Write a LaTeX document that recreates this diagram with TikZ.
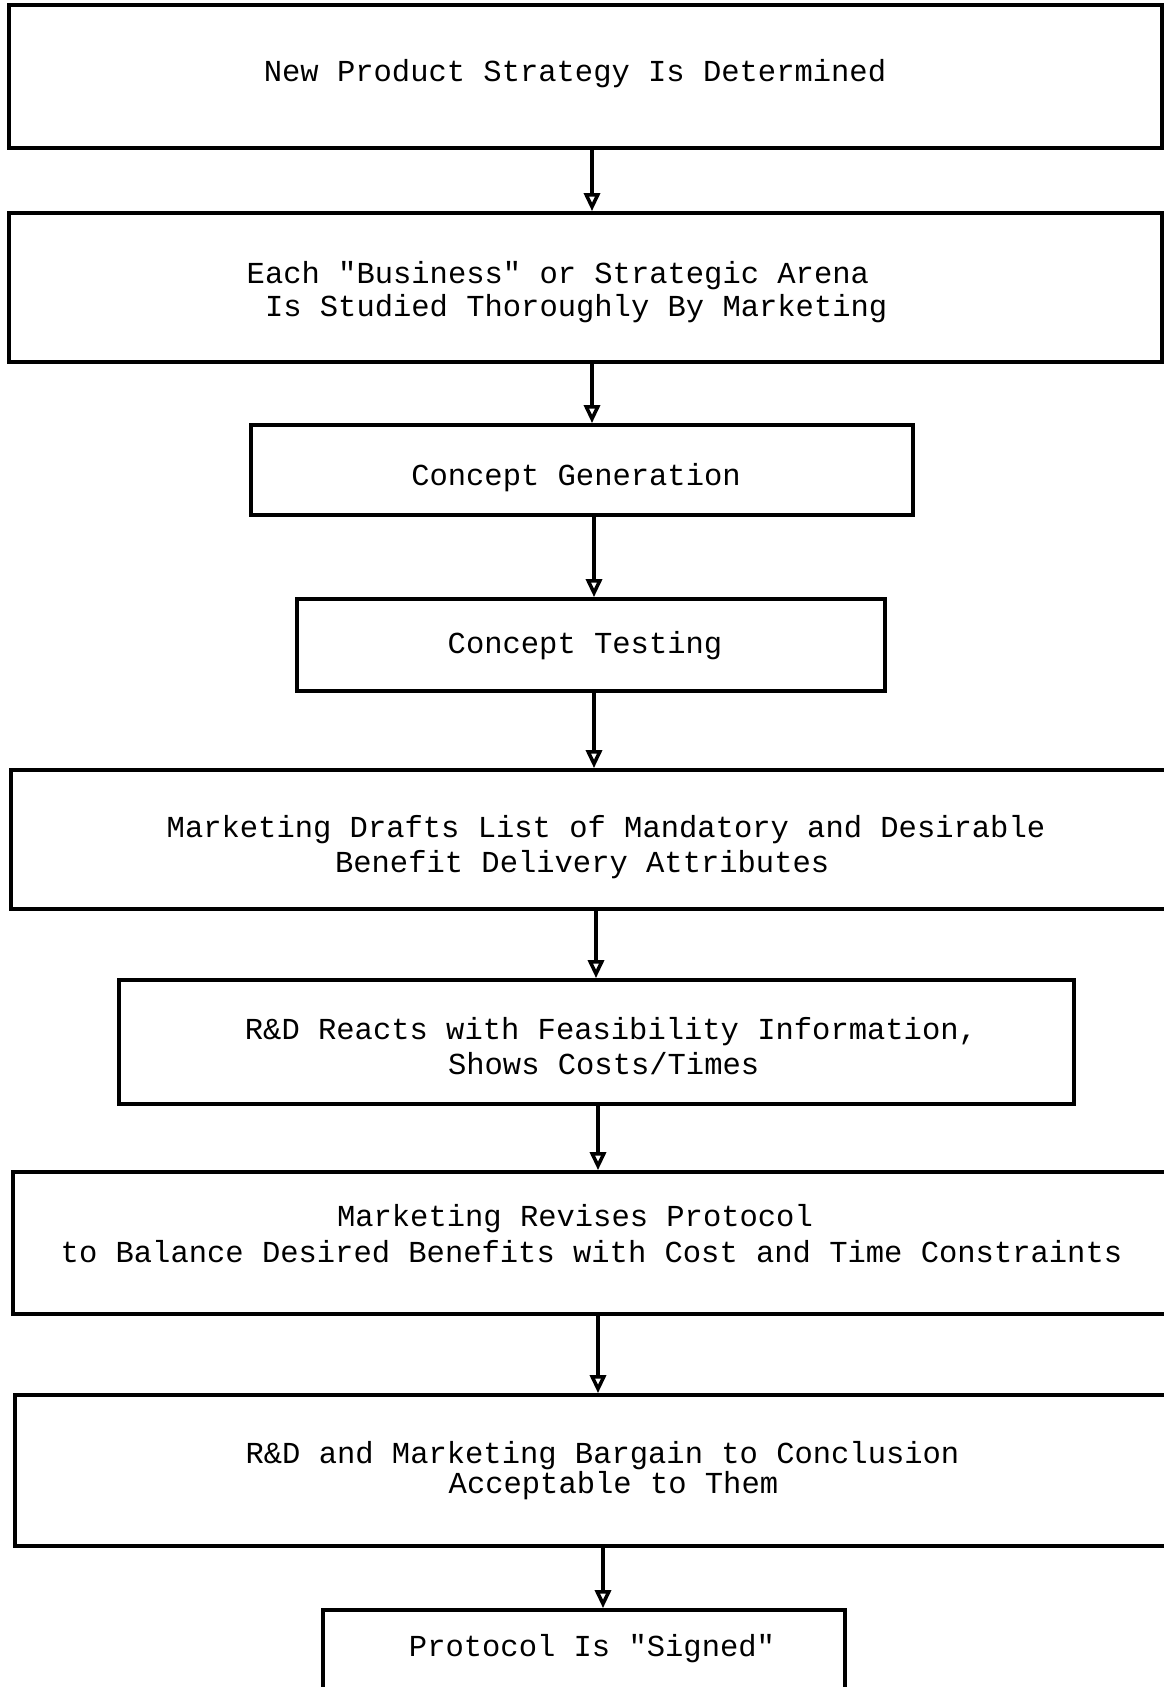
\documentclass[tikz,border=0pt]{standalone}
\usepackage{fontspec}
\setmonofont{Liberation Mono}
\usetikzlibrary{arrows.meta}
\begin{document}
\begin{tikzpicture}[x=1pt,y=-1pt,
  box/.style={draw, line width=3.8pt, rectangle, inner sep=0pt},
  txt/.style={inner sep=0pt, font=\ttfamily\fontsize{30.5}{35}\selectfont, align=center},
  arr/.style={line width=3.8pt, -{Triangle[open,length=18pt,width=16pt,line width=3.5pt]}}]
\clip (0,0) rectangle (1164,1687);
\fill[white] (0,0) rectangle (1164,1687);
\node[box, minimum width=1153pt, minimum height=143pt,
  label={[txt, xshift=-10.5pt, yshift=2.5pt]center:{New Product Strategy Is Determined}}] (b1) at (585.5,76.5) {};
\node[box, minimum width=1153pt, minimum height=149pt,
  label={[txt, align=left, font=\ttfamily\fontsize{30.5}{33}\selectfont, xshift=-18.5pt, yshift=-4.5pt]center:{Each "Business" or Strategic Arena\\\hspace*{0.6em}Is Studied Thoroughly By Marketing}}] (b2) at (585.5,287.5) {};
\node[box, minimum width=662pt, minimum height=90pt,
  label={[txt, xshift=-6pt, yshift=-7.5pt]center:{Concept Generation}}] (b3) at (582,470) {};
\node[box, minimum width=588pt, minimum height=92pt,
  label={[txt, xshift=-6pt, yshift=-1pt]center:{Concept Testing}}] (b4) at (591,645) {};
\node[box, minimum width=1157pt, minimum height=139pt,
  label={[txt, align=left, xshift=16.5pt, yshift=-7.5pt]center:{Marketing Drafts List of Mandatory and Desirable\\\hspace*{5.52em}Benefit Delivery Attributes}}] (b5) at (589.5,839.5) {};
\node[box, minimum width=955pt, minimum height=124pt,
  label={[txt, align=left, xshift=14.5pt, yshift=-4pt]center:{R\&D Reacts with Feasibility Information,\\\hspace*{6.66em}Shows Costs/Times}}] (b6) at (596.5,1042) {};
\node[box, minimum width=1155pt, minimum height=142pt,
  label={[txt, align=left, font=\ttfamily\fontsize{30.5}{36}\selectfont, xshift=1pt, yshift=9pt]center:{\hspace*{9.06em}Marketing Revises Protocol\\to Balance Desired Benefits with Cost and Time Constraints}}] (b7) at (590.5,1243) {};
\node[box, minimum width=1153pt, minimum height=151pt,
  label={[txt, align=left, font=\ttfamily\fontsize{30.5}{30}\selectfont, xshift=11pt, yshift=0pt]center:{R\&D and Marketing Bargain to Conclusion\\\hspace*{6.66em}Acceptable to Them}}] (b8) at (591.5,1470.5) {};
\node[box, minimum width=522pt, minimum height=110pt,
  label={[txt, xshift=8pt, yshift=16pt]center:{Protocol Is "Signed"}}] (b9) at (584,1665) {};
\draw[arr] ([xshift=6.5pt]b1.south) -- ([xshift=6.5pt]b2.north);
\draw[arr] ([xshift=6.5pt]b2.south) -- ([xshift=10pt]b3.north);
\draw[arr] ([xshift=12pt]b3.south) -- ([xshift=3pt]b4.north);
\draw[arr] ([xshift=3pt]b4.south) -- ([xshift=4.5pt]b5.north);
\draw[arr] ([xshift=6.5pt]b5.south) -- ([xshift=-0.5pt]b6.north);
\draw[arr] ([xshift=1.5pt]b6.south) -- ([xshift=7.5pt]b7.north);
\draw[arr] ([xshift=7.5pt]b7.south) -- ([xshift=6.5pt]b8.north);
\draw[arr] ([xshift=11.5pt]b8.south) -- ([xshift=19pt]b9.north);
\end{tikzpicture}
\end{document}
